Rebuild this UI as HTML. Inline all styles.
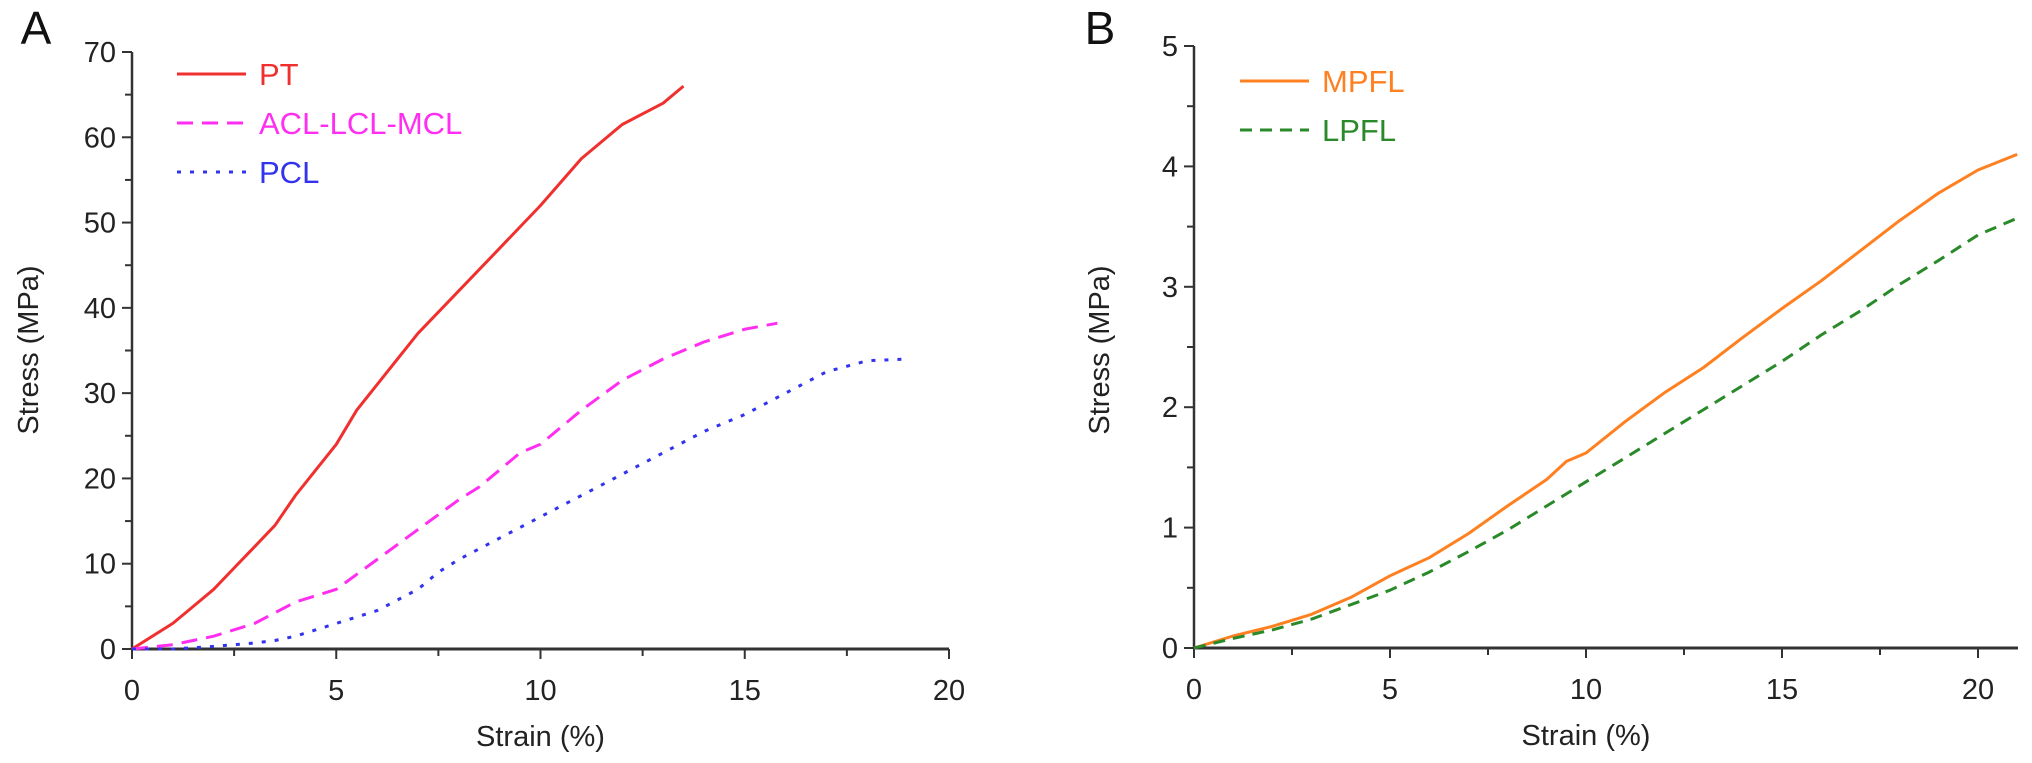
<!DOCTYPE html>
<html><head><meta charset="utf-8"><style>
body{margin:0;background:#fff;}
svg{display:block;font-family:"Liberation Sans",Arial,sans-serif;}
</style></head><body>
<svg id="c" width="2032" height="763"></svg>
<script>
const ptX=[0,1,1.5,2,2.5,3,3.5,4,4.5,5,5.5,6,7,8,9,10,11,12,13,13.5];
const ptY=[0,3,5,7,9.5,12,14.5,18,21,24,28,31,37,42,47,52,57.5,61.5,64,66];
const aclX=[0,1,2,3,4,5,6,7,8,8.5,9,9.5,10,11,12,13,14,15,15.8];
const aclY=[0,0.5,1.5,3,5.5,7,10.5,14,17.5,19,21,23,24,28,31.5,34,36,37.5,38.2];
const pclX=[0,1,2,3,3.5,4,5,6,7,7.5,8,9,10,11,12,13,14,15,16,17,18,19];
const pclY=[0,0,0.3,0.7,1,1.5,3,4.5,7,9,10.5,13,15.5,18,20.5,23,25.5,27.5,30,32.5,33.8,34];
const mpX=[0,1,2,3,4,5,6,7,8,9,9.5,10,11,12,13,14,15,16,17,18,19,20,21];
const mpY=[0,0.1,0.18,0.28,0.42,0.6,0.75,0.95,1.18,1.4,1.55,1.62,1.88,2.12,2.33,2.58,2.82,3.05,3.3,3.55,3.78,3.97,4.1];
const lpX=[0,1,2,3,4,5,6,7,8,9,10,11,12,13,14,15,16,17,18,19,20,21];
const lpY=[0,0.08,0.15,0.24,0.36,0.48,0.63,0.8,0.98,1.18,1.38,1.58,1.78,1.98,2.18,2.38,2.6,2.8,3.02,3.22,3.43,3.57];
const aXTicks=[0,5,10,15,20];
const aYTicks=[0,10,20,30,40,50,60,70];
const bXTicks=[0,5,10,15,20];
const bYTicks=[0,1,2,3,4,5];

const svg=document.getElementById('c');
const NS='http://www.w3.org/2000/svg';
function mk(tag,at,txt){const e=document.createElementNS(NS,tag);for(const k in at)e.setAttribute(k,at[k]);if(txt!==undefined)e.textContent=txt;svg.appendChild(e);return e;}

function panel(p){
  const sx=v=>p.x0+(v-p.xmin)/(p.xmax-p.xmin)*(p.x1-p.x0);
  const sy=v=>p.y0-(v-p.ymin)/(p.ymax-p.ymin)*(p.y0-p.y1);
  let e;
  e=mk('line',{x1:p.x0,y1:p.y0,x2:p.x0,y2:p.y1,stroke:'#333','stroke-width':2.5});
  
  e=mk('line',{x1:p.x0,y1:p.y0,x2:p.xend,y2:p.y0,stroke:'#333','stroke-width':3});
  
  p.xt.forEach((v,i)=>{
    mk('line',{x1:sx(v),y1:p.y0,x2:sx(v),y2:p.y0+10,stroke:'#333','stroke-width':2});
    if(i<p.xt.length-1 || sx(v+p.xs/2)<=p.xend) mk('line',{x1:sx(v+p.xs/2),y1:p.y0,x2:sx(v+p.xs/2),y2:p.y0+7,stroke:'#333','stroke-width':2});
    e=mk('text',{x:sx(v),y:p.y0+51,'text-anchor':'middle','font-size':29,fill:'#222'},v);
    
  });
  p.yt.forEach((v,i)=>{
    mk('line',{x1:p.x0,y1:sy(v),x2:p.x0-10,y2:sy(v),stroke:'#333','stroke-width':2});
    if(i<p.yt.length-1) mk('line',{x1:p.x0,y1:sy(v+p.ys/2),x2:p.x0-7,y2:sy(v+p.ys/2),stroke:'#333','stroke-width':2});
    e=mk('text',{x:p.x0-16,y:sy(v)+10,'text-anchor':'end','font-size':29,fill:'#222'},v);
    
  });
  e=mk('text',{x:(p.x0+sx(20))/2,y:p.y0+97,'text-anchor':'middle','font-size':29,fill:'#222'},'Strain (%)');
  
  e=mk('text',{x:p.ytx,y:350,'text-anchor':'middle','font-size':29,fill:'#222',transform:`rotate(-90 ${p.ytx} 350)`},'Stress (MPa)');
  
  e=mk('text',{x:p.lx,y:44,'text-anchor':'middle','font-size':46,fill:'#111'},p.letter);
  
  p.series.forEach((s,i)=>{
    const d=s.x.map((v,j)=>(j?'L':'M')+sx(v).toFixed(1)+','+sy(s.y[j]).toFixed(1)).join(' ');
    e=mk('path',{d:d,fill:'none',stroke:s.c,'stroke-width':3,'stroke-dasharray':s.dash,'stroke-linejoin':'round'});
    
    const ly=p.ly0+i*p.lgap;
    e=mk('line',{x1:p.lgx,y1:ly,x2:p.lgx+69,y2:ly,stroke:s.c,'stroke-width':3,'stroke-dasharray':s.dash});
    
    e=mk('text',{x:p.lgx+82,y:ly+11,'font-size':31,fill:s.c},s.label);
    
  });
}
panel({id:'a',letter:'A',lx:36,x0:132,x1:949,xend:949,y0:649,y1:52,xmin:0,xmax:20,ymin:0,ymax:70,xt:aXTicks,yt:aYTicks,xs:5,ys:10,ytx:38,
  lgx:177,ly0:74,lgap:49,
  series:[{name:'pt',label:'PT',x:ptX,y:ptY,c:'#f0302f',dash:''},
          {name:'acl-lcl-mcl',label:'ACL-LCL-MCL',x:aclX,y:aclY,c:'#ff2ef0',dash:'16 9'},
          {name:'pcl',label:'PCL',x:pclX,y:pclY,c:'#3333ee',dash:'4 9'}]});
panel({id:'b',letter:'B',lx:1100,x0:1194,x1:1978,xend:2018,y0:648,y1:46,xmin:0,xmax:20,ymin:0,ymax:5,xt:bXTicks,yt:bYTicks,xs:5,ys:1,ytx:1109,
  lgx:1240,ly0:81,lgap:49,
  series:[{name:'mpfl',label:'MPFL',x:mpX,y:mpY,c:'#ff8020',dash:''},
          {name:'lpfl',label:'LPFL',x:lpX,y:lpY,c:'#2a8a2a',dash:'12 8'}]});
</script>
</body></html>
